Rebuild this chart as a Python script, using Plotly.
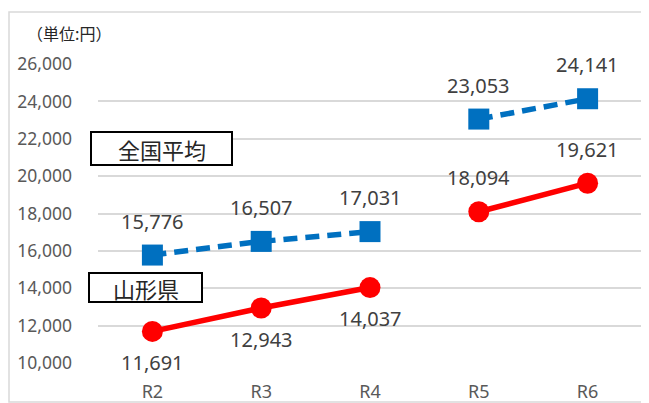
import plotly.graph_objects as go

categories = ["R2", "R3", "R4", "R5", "R6"]
national_avg = [15776, 16507, 17031, 23053, 24141]
yamagata = [11691, 12943, 14037, 18094, 19621]
y_ticks = [10000, 12000, 14000, 16000, 18000, 20000, 22000, 24000, 26000]
segments = [(0, 3), (3, 5)]  # lines are broken between R4 and R5
label_below_yamagata = [True, True, True, False, False]

BLUE = "#0070C0"
RED = "#FF0000"
TXT = "#404040"
FONT = "Noto Sans, Noto Sans CJK JP, sans-serif"
JP = "Noto Sans CJK JP"

fig = go.Figure()
for a, b in segments:
    fig.add_trace(go.Scatter(
        x=categories[a:b], y=national_avg[a:b], mode="lines+markers",
        line=dict(color=BLUE, width=5.5, dash="14px,8px"),
        marker=dict(symbol="square", size=21, color=BLUE),
        showlegend=False, hoverinfo="skip"))
    fig.add_trace(go.Scatter(
        x=categories[a:b], y=yamagata[a:b], mode="lines+markers",
        line=dict(color=RED, width=5.5),
        marker=dict(symbol="circle", size=21, color=RED),
        showlegend=False, hoverinfo="skip"))

ann = []
for c, v in zip(categories, national_avg):
    ann.append(dict(x=c, y=v, text=f"{v:,}", showarrow=False, yshift=34,
                    xanchor="center", yanchor="middle",
                    font=dict(size=20, color=TXT, family=FONT)))
for c, v, below in zip(categories, yamagata, label_below_yamagata):
    ann.append(dict(x=c, y=v, text=f"{v:,}", showarrow=False,
                    yshift=-31 if below else 34, xanchor="center", yanchor="middle",
                    font=dict(size=20, color=TXT, family=FONT)))

# page body has an 8px default margin: work in screen pixels, shift by OFF
OFF = 8
W, H = 649, 403
L, R, T, B = 98 - OFF, W - 642 + OFF, 64 - OFF, H - 363 + OFF
pw, ph = W - L - R, H - T - B
def px(x):
    return (x - OFF - L) / pw
def py(y):
    return (H - B - (y - OFF)) / ph

# unit label
ann.append(dict(xref="paper", yref="paper", x=px(25), y=py(33), xanchor="left",
                yanchor="middle", text="（単位:円）", showarrow=False,
                font=dict(size=16, color="#262626", family=JP)))
# series name boxes
ann.append(dict(xref="paper", yref="paper", x=px(161.5), y=py(148.5), text="全国平均",
                xanchor="center", yanchor="middle", showarrow=False,
                font=dict(size=22, color="#262626", family=JP)))
ann.append(dict(xref="paper", yref="paper", x=px(145.5), y=py(287.5), text="山形県",
                xanchor="center", yanchor="middle", showarrow=False,
                font=dict(size=22, color="#262626", family=JP)))

shapes = [
    dict(type="rect", xref="paper", yref="paper", x0=px(9), x1=px(643), y0=py(402), y1=py(12),
         line=dict(color="#D9D9D9", width=1.5), layer="below"),
    dict(type="rect", xref="paper", yref="paper", x0=px(91), x1=px(232), y0=py(165), y1=py(132),
         line=dict(color="black", width=2), fillcolor="white", layer="above"),
    dict(type="rect", xref="paper", yref="paper", x0=px(89), x1=px(202), y0=py(302), y1=py(273),
         line=dict(color="black", width=2), fillcolor="white", layer="above"),
]

fig.update_layout(
    width=W, height=H, margin=dict(l=L, r=R, t=T, b=B, autoexpand=False),
    paper_bgcolor="white", plot_bgcolor="white",
    font=dict(family=FONT, color="#595959"),
    annotations=ann, shapes=shapes,
    xaxis=dict(type="category", categoryorder="array", categoryarray=categories,
               range=[-0.5, len(categories) - 0.5], showgrid=False, zeroline=False,
               showline=False, ticks="", tickfont=dict(size=18, color="#595959"),
               ticklabelstandoff=16, automargin=False),
    yaxis=dict(range=[10000, 26000], tickvals=y_ticks,
               ticktext=[f"{t:,}" for t in y_ticks],
               showgrid=True, gridcolor="#D9D9D9", gridwidth=1.5, zeroline=False,
               showline=False, ticks="", tickfont=dict(size=17.5, color="#595959"),
               ticklabelstandoff=25, automargin=False),
)

fig.write_html("out.html")
